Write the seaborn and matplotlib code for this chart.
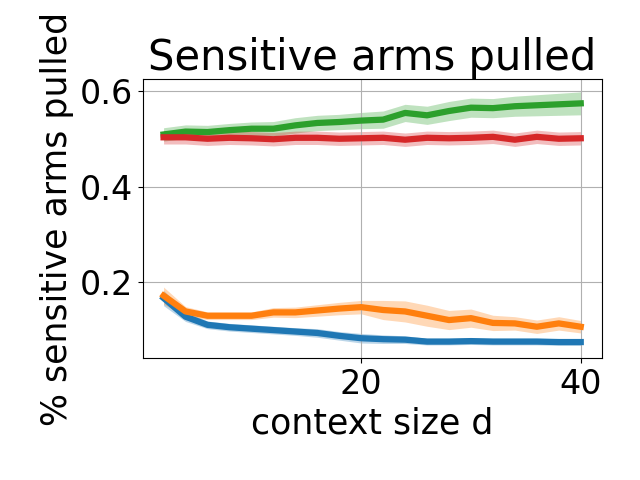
import matplotlib
matplotlib.use('Agg')
import matplotlib.pyplot as plt
import numpy as np
import pandas as pd
import seaborn as sns

# context sizes
d = [2, 4, 6, 8, 10, 12, 14, 16, 18, 20, 22, 24, 26, 28, 30, 32, 34, 36, 38, 40]

# mean fraction of sensitive arms pulled, one list per method
blue_mean = [0.167, 0.128, 0.111, 0.106, 0.103, 0.100, 0.097, 0.094, 0.088, 0.083,
             0.081, 0.080, 0.076, 0.076, 0.077, 0.076, 0.076, 0.076, 0.075, 0.075]
orange_mean = [0.172, 0.139, 0.130, 0.130, 0.130, 0.137, 0.137, 0.141, 0.145, 0.148,
               0.142, 0.139, 0.130, 0.121, 0.125, 0.115, 0.114, 0.107, 0.114, 0.107]
green_mean = [0.509, 0.515, 0.514, 0.518, 0.521, 0.521, 0.528, 0.533, 0.535, 0.538,
              0.540, 0.554, 0.549, 0.558, 0.565, 0.564, 0.568, 0.570, 0.572, 0.574]
red_mean = [0.503, 0.503, 0.500, 0.502, 0.501, 0.499, 0.502, 0.502, 0.500, 0.501,
            0.502, 0.498, 0.502, 0.501, 0.502, 0.504, 0.498, 0.504, 0.500, 0.501]

# half-width of the shaded bands
blue_err = [0.016, 0.010, 0.008, 0.008, 0.008, 0.008, 0.008, 0.009, 0.009, 0.010,
            0.009, 0.008, 0.007, 0.007, 0.007, 0.007, 0.007, 0.007, 0.007, 0.007]
orange_err = [0.018, 0.010, 0.008, 0.008, 0.008, 0.010, 0.011, 0.012, 0.013, 0.014,
              0.020, 0.022, 0.022, 0.020, 0.019, 0.016, 0.014, 0.014, 0.014, 0.013]
green_err = [0.014, 0.014, 0.014, 0.014, 0.014, 0.015, 0.016, 0.016, 0.016, 0.017,
             0.018, 0.018, 0.019, 0.020, 0.020, 0.020, 0.021, 0.022, 0.023, 0.024]
red_err = [0.014, 0.014, 0.014, 0.014, 0.014, 0.014, 0.014, 0.014, 0.014, 0.014,
           0.014, 0.014, 0.014, 0.014, 0.014, 0.014, 0.014, 0.014, 0.014, 0.014]

series = [
    (blue_mean, blue_err, 'tab:blue'),
    (orange_mean, orange_err, 'tab:orange'),
    (green_mean, green_err, 'tab:green'),
    (red_mean, red_err, 'tab:red'),
]

fig = plt.figure(figsize=(6.4, 4.8), dpi=100)
ax = fig.add_axes([0.223, 0.254, 0.717, 0.581])

for mean, err, color in series:
    m = np.array(mean)
    e = np.array(err)
    df = pd.DataFrame({'d': d, 'value': m})
    ax.fill_between(d, m - e, m + e, color=color, alpha=0.3, linewidth=0)
    sns.lineplot(data=df, x='d', y='value', color=color, linewidth=4.5, ax=ax)

ax.set_title('Sensitive arms pulled', fontsize=30)
ax.set_xlabel('context size d', fontsize=25)
ax.set_ylabel('% sensitive arms pulled', fontsize=25)
ax.set_xticks([20, 40])
ax.set_yticks([0.2, 0.4, 0.6])
ax.tick_params(labelsize=24)
ax.grid(True)

fig.savefig('out.png', dpi=100)
